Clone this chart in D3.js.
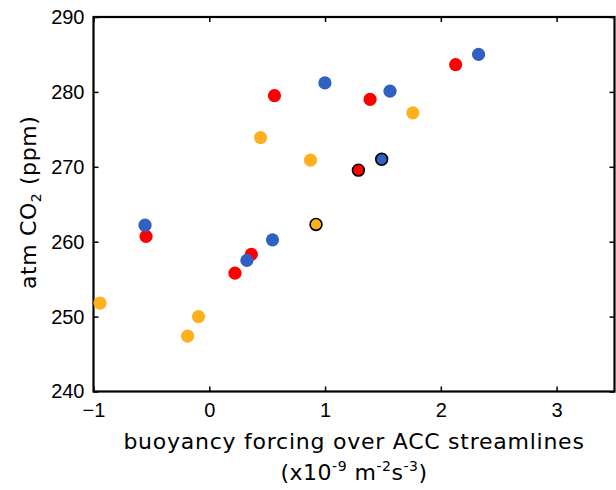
<!DOCTYPE html>
<html><head><meta charset="utf-8">
<script src="https://cdn.jsdelivr.net/npm/d3@7"></script>
<style>body{margin:0;background:#fff}svg{display:block}</style>
</head><body>
<svg id="c" width="616" height="490"></svg>
<script>
const xTicks = [-1, 0, 1, 2, 3];
const yTicks = [240, 250, 260, 270, 280, 290];
const orangeX = [-0.944, -0.187, -0.093, 0.443, 0.874, 1.758];
const orangeY = [251.8, 247.4, 250.0, 273.9, 270.9, 277.2];
const redX = [-0.546, 0.222, 0.363, 0.563, 1.389, 2.128];
const redY = [260.7, 255.8, 258.3, 279.5, 279.0, 283.65];
const blueX = [-0.555, 0.325, 0.546, 0.999, 1.561, 2.326];
const blueY = [262.2, 257.5, 260.25, 281.2, 280.1, 285.0];
const edgedX = [0.922, 1.288, 1.489];
const edgedY = [262.3, 269.55, 271.0];
const edgedColor = ["orange", "red", "blue"];
const colors = {orange: "#FFB01E", red: "#FF0000", blue: "#3060C2"};

const svg = d3.select("#c");
const L = 93.5, R = 614.5, T = 17, B = 391.5;
const x = d3.scaleLinear().domain([-1, 3.5]).range([L, R]);
const y = d3.scaleLinear().domain([240, 290]).range([B, T]);

const tickFont = "Liberation Sans, Arial, sans-serif";
const titleFont = "DejaVu Sans, Verdana, sans-serif";

const g = svg.append("g");
g.append("g").attr("transform", `translate(0,${B})`)
  .call(d3.axisBottom(x).tickValues(xTicks).tickSize(-5).tickPadding(11).tickFormat(d => d < 0 ? "\u2212" + Math.abs(d) : d))
  .call(s => { s.select(".domain").remove(); s.selectAll("text").attr("font-family", tickFont).attr("font-size", 20).attr("fill", "#000"); s.selectAll("line").attr("stroke-width", 1.5); });
g.append("g").attr("transform", `translate(0,${T})`)
  .call(d3.axisTop(x).tickValues(xTicks).tickSize(-5).tickFormat(""))
  .call(s => { s.select(".domain").remove(); s.selectAll("line").attr("stroke-width", 1.5); });
g.append("g").attr("transform", `translate(${L},0)`)
  .call(d3.axisLeft(y).tickValues(yTicks).tickSize(-5).tickPadding(9))
  .call(s => { s.select(".domain").remove(); s.selectAll("text").attr("font-family", tickFont).attr("font-size", 20).attr("fill", "#000"); s.selectAll("line").attr("stroke-width", 1.5); });
g.append("g").attr("transform", `translate(${R},0)`)
  .call(d3.axisRight(y).tickValues(yTicks).tickSize(-5).tickFormat(""))
  .call(s => { s.select(".domain").remove(); s.selectAll("line").attr("stroke-width", 1.5); });

svg.append("rect").attr("x", L).attr("y", T).attr("width", R - L).attr("height", B - T)
  .attr("fill", "none").attr("stroke", "#000").attr("stroke-width", 2.2);

function plot(xs, ys, col) {
  svg.append("g").selectAll("circle").data(xs.map((v, i) => [v, ys[i]])).join("circle")
    .attr("cx", d => x(d[0])).attr("cy", d => y(d[1])).attr("r", 6.6).attr("fill", col);
}
plot(orangeX, orangeY, colors.orange);
plot(redX, redY, colors.red);
plot(blueX, blueY, colors.blue);
svg.append("g").selectAll("circle").data(edgedX.map((v, i) => [v, edgedY[i], edgedColor[i]])).join("circle")
  .attr("cx", d => x(d[0])).attr("cy", d => y(d[1])).attr("r", 5.9)
  .attr("fill", d => colors[d[2]]).attr("stroke", "#000").attr("stroke-width", 1.6);

svg.append("text").attr("x", (L + R) / 2).attr("y", 448.5).attr("text-anchor", "middle")
  .attr("font-family", titleFont).attr("font-size", 22).attr("letter-spacing", 0.75)
  .text("buoyancy forcing over ACC streamlines");
const t2 = svg.append("text").attr("x", (L + R) / 2).attr("y", 480).attr("text-anchor", "middle")
  .attr("font-family", titleFont).attr("font-size", 22).attr("letter-spacing", 0.5);
t2.append("tspan").text("(x10");
t2.append("tspan").attr("dy", -9).attr("font-size", 14).text("-9");
t2.append("tspan").attr("dy", 9).text(" m");
t2.append("tspan").attr("dy", -9).attr("font-size", 14).text("-2");
t2.append("tspan").attr("dy", 9).text("s");
t2.append("tspan").attr("dy", -9).attr("font-size", 14).text("-3");
t2.append("tspan").attr("dy", 9).text(")");

const yl = svg.append("text").attr("transform", `translate(36,${(T + B) / 2 - 2}) rotate(-90)`).attr("text-anchor", "middle")
  .attr("font-family", titleFont).attr("font-size", 22).attr("letter-spacing", 0.6);
yl.append("tspan").text("atm CO");
yl.append("tspan").attr("dy", 5).attr("font-size", 14).text("2");
yl.append("tspan").attr("dy", -5).text(" (ppm)");
</script>
</body></html>
